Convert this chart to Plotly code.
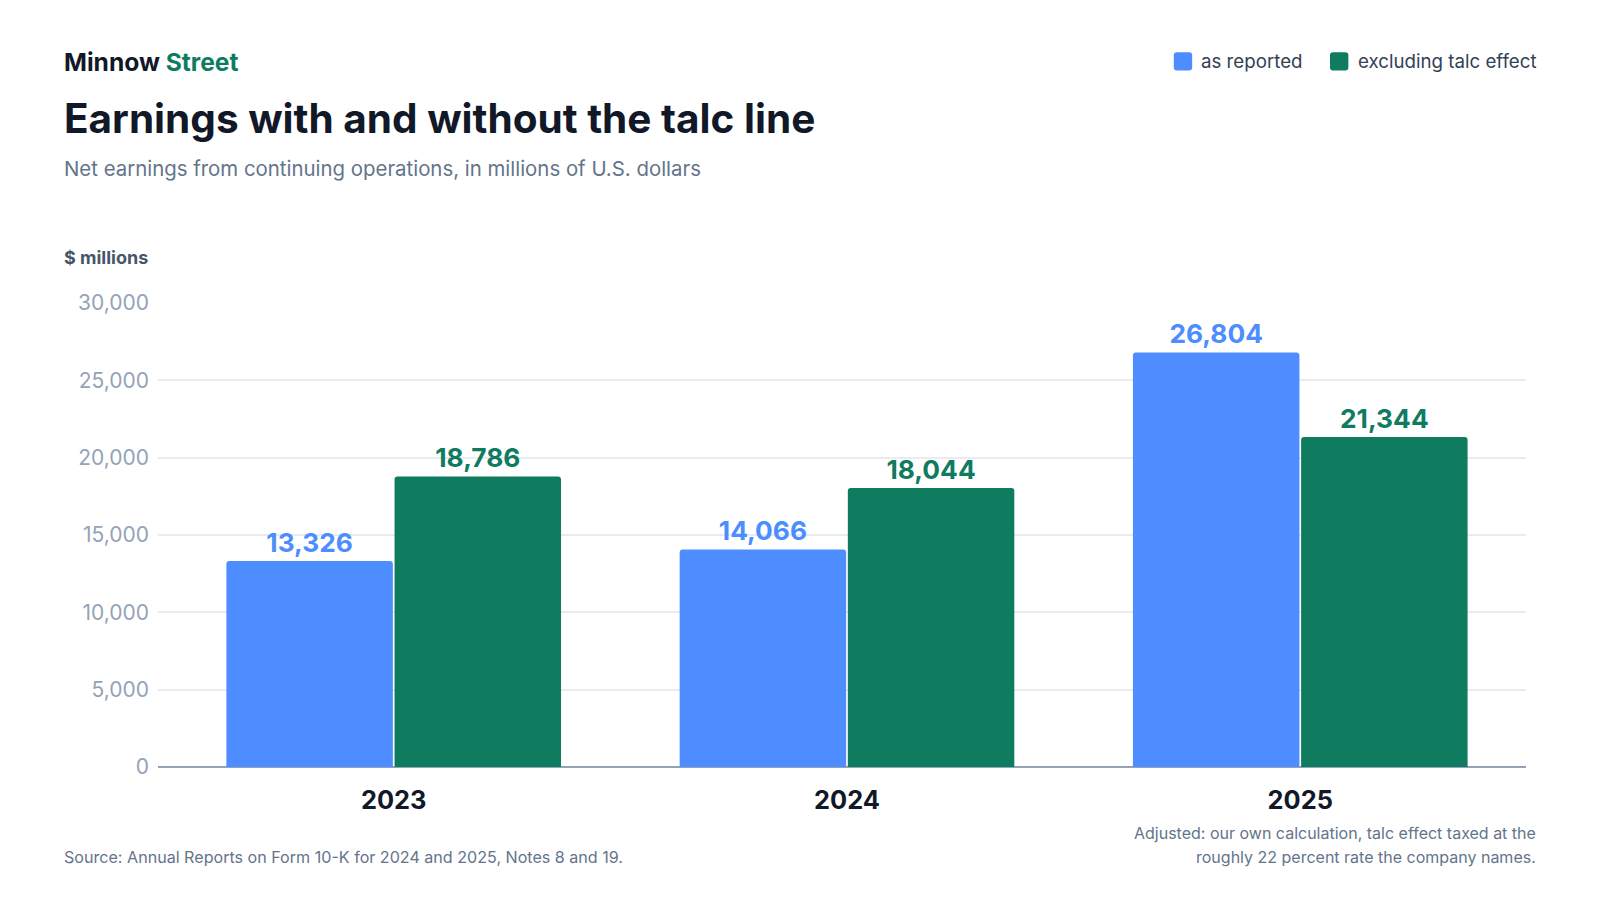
import plotly.graph_objects as go

years = ["2023", "2024", "2025"]
as_reported = [13326, 14066, 26804]
excluding_talc = [18786, 18044, 21344]
y_ticks = [0, 5000, 10000, 15000, 20000, 25000, 30000]
series_names = ["as reported", "excluding talc effect"]

BLUE = "#4d8dff"
GREEN = "#0f7b5f"
FONT = "Inter"

# Layout measured on the reference picture (as displayed, scale S of the page).
S = 0.98
OFF = 8  # default body margin of the page
W, H = 1600 - 2 * OFF, 900 - 2 * OFF
PL, PR, PT, PB = 155, 1495, 297, 752  # plot area, reference-picture pixels


def fig_px(v):
    return v / S - OFF


def px(x):
    return (x - PL) / (PR - PL)


def py(y):
    return (PB - y) / (PB - PT)


fig = go.Figure()
fig.add_trace(go.Bar(
    x=years, y=as_reported, name=series_names[0],
    marker=dict(color=BLUE, line=dict(width=0)),
    text=[f"{v:,}" for v in as_reported], textposition="outside",
    textfont=dict(family=FONT, size=26.3, color=BLUE, weight=700),
    cliponaxis=False,
))
fig.add_trace(go.Bar(
    x=years, y=excluding_talc, name=series_names[1],
    marker=dict(color=GREEN, line=dict(width=0)),
    text=[f"{v:,}" for v in excluding_talc], textposition="outside",
    textfont=dict(family=FONT, size=26.3, color=GREEN, weight=700),
    cliponaxis=False,
))

fig.update_layout(
    width=W, height=H,
    margin=dict(l=fig_px(PL), r=W - fig_px(PR), t=fig_px(PT), b=H - fig_px(PB)),
    paper_bgcolor="white", plot_bgcolor="white",
    font=dict(family=FONT, color="#334155"),
    barmode="group", bargap=0.258, bargroupgap=0.01,
    barcornerradius=3,
    showlegend=False,
    xaxis=dict(
        range=[-0.52, 2.498],
        showgrid=False, ticks="", showline=False,
        tickfont=dict(family=FONT, size=25.4, color="#111827", weight=700),
        ticklabelstandoff=16,
    ),
    yaxis=dict(
        range=[0, 30000], tickvals=y_ticks, tickformat=",",
        gridcolor="#e8ebef", gridwidth=1.5, zeroline=True,
        zerolinecolor="#94a3b8", zerolinewidth=2,
        tickfont=dict(family=FONT, size=21, color="#94a3b8"),
        ticks="", ticklabelstandoff=8,
    ),
)

annotations = [
    dict(text="<b>Minnow <span style='color:#0f7b5f'>Street</span></b>",
         x=61, y=61, font=dict(size=24.6, color="#111827")),
    dict(text="<b>Earnings with and without the talc line</b>",
         x=61, y=116, font=dict(size=40.5, color="#111827")),
    dict(text="Net earnings from continuing operations, in millions of U.S. dollars",
         x=61, y=165, font=dict(size=20.4, color="#64748b")),
    dict(text="<b>$ millions</b>",
         x=61, y=252, font=dict(size=18, color="#475569")),
    dict(text="Source: Annual Reports on Form 10-K for 2024 and 2025, Notes 8 and 19.",
         x=61, y=840, font=dict(size=16.1, color="#64748b")),
]
for a in annotations:
    fig.add_annotation(
        text=a["text"], xref="paper", yref="paper",
        x=px(a["x"]), y=py(a["y"]),
        xanchor="left", yanchor="middle", showarrow=False,
        font=dict(family=FONT, **a["font"]),
    )
note_lines = [
    ("Adjusted: our own calculation, talc effect taxed at the", 817),
    ("roughly 22 percent rate the company names.", 840),
]
for line, yy in note_lines:
    fig.add_annotation(
        text=line, xref="paper", yref="paper", x=px(1507), y=py(yy),
        xanchor="right", yanchor="middle", align="right", showarrow=False,
        font=dict(family=FONT, size=16, color="#64748b"),
    )

# custom legend (rounded swatches + labels)
legend_items = [(1150, BLUE, series_names[0]), (1303, GREEN, series_names[1])]
for x0, col, label in legend_items:
    x1, y0, y1, r = x0 + 18, 51, 69, 3
    pts = [
        ("M", [(x0 + r, y0)]), ("L", [(x1 - r, y0)]), ("Q", [(x1, y0), (x1, y0 + r)]),
        ("L", [(x1, y1 - r)]), ("Q", [(x1, y1), (x1 - r, y1)]), ("L", [(x0 + r, y1)]),
        ("Q", [(x0, y1), (x0, y1 - r)]), ("L", [(x0, y0 + r)]), ("Q", [(x0, y0), (x0 + r, y0)]),
    ]
    path = " ".join(
        cmd + " " + " ".join(f"{px(a):.5f},{py(b):.5f}" for a, b in coords)
        for cmd, coords in pts
    ) + " Z"
    fig.add_shape(type="path", path=path, xref="paper", yref="paper",
                  fillcolor=col, line=dict(width=0), layer="above")
    fig.add_annotation(
        text=label, xref="paper", yref="paper", x=px(x1 + 7), y=py(60),
        xanchor="left", yanchor="middle", showarrow=False,
        font=dict(family=FONT, size=18.7, color="#334155"),
    )

fig.write_html("out.html")
